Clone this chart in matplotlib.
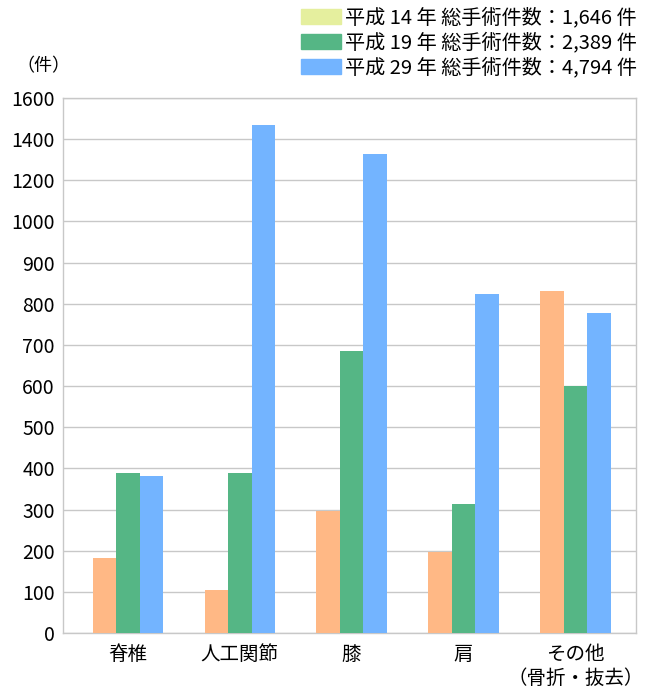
import matplotlib.pyplot as plt
import numpy as np
from matplotlib.patches import Patch

plt.rcParams['font.family'] = ['Noto Sans CJK JP', 'DejaVu Sans']

categories = ["脊椎", "人工関節", "膝", "肩", "その他\n（骨折・抜去）"]
h14 = [183, 105, 297, 198, 831]
h19 = [390, 390, 685, 313, 600]
h29 = [381, 1468, 1328, 824, 778]
legend_labels = ["平成 14 年 総手術件数：1,646 件",
                 "平成 19 年 総手術件数：2,389 件",
                 "平成 29 年 総手術件数：4,794 件"]
yticks = [0, 100, 200, 300, 400, 500, 600, 700, 800, 900, 1000, 1200, 1400, 1600]

bar_colors = ["#FFB885", "#55B685", "#73B4FF"]
legend_colors = ["#E5EF9E", "#55B685", "#73B4FF"]


# axis steps by 100 up to 1000, then by 200
def forward(v):
    v = np.asarray(v, dtype=float)
    return np.where(v <= 1000, v / 100, 10 + (v - 1000) / 200)


def inverse(p):
    p = np.asarray(p, dtype=float)
    return np.where(p <= 10, p * 100, 1000 + (p - 10) * 200)


fig = plt.figure(figsize=(6.5, 6.99), dpi=100)
ax = fig.add_axes([0.097, 0.0944, 0.881, 0.7654])
ax.set_yscale('function', functions=(forward, inverse))

x = np.arange(len(categories))
w = 0.21
for i, vals in enumerate([h14, h19, h29]):
    ax.bar(x + (i - 1) * w, vals, width=w, color=bar_colors[i], zorder=3)

ax.set_ylim(0, 1600)
ax.set_xlim(-0.58, 4.54)
ax.set_yticks(yticks)
ax.set_yticklabels([str(t) for t in yticks], fontsize=14)
ax.set_xticks(x)
ax.set_xticklabels(categories, fontsize=14, linespacing=1.15)
ax.tick_params(length=0, pad=6)
ax.tick_params(axis='x', pad=8)
ax.yaxis.grid(True, color="#c8c8c8", linewidth=1)
ax.set_axisbelow(True)
for s in ax.spines.values():
    s.set_color("#c8c8c8")
    s.set_linewidth(1)

fig.text(0.025, 0.905, "（件）", fontsize=13, ha="left", va="center")

handles = [Patch(color=c) for c in legend_colors]
fig.legend(handles, legend_labels, loc="upper left", bbox_to_anchor=(0.463, 0.989),
           frameon=False, fontsize=14.5, handlelength=2.0, handleheight=0.75,
           handletextpad=0.2, labelspacing=0.2, borderpad=0, borderaxespad=0)

fig.savefig("out.png", dpi=100)
